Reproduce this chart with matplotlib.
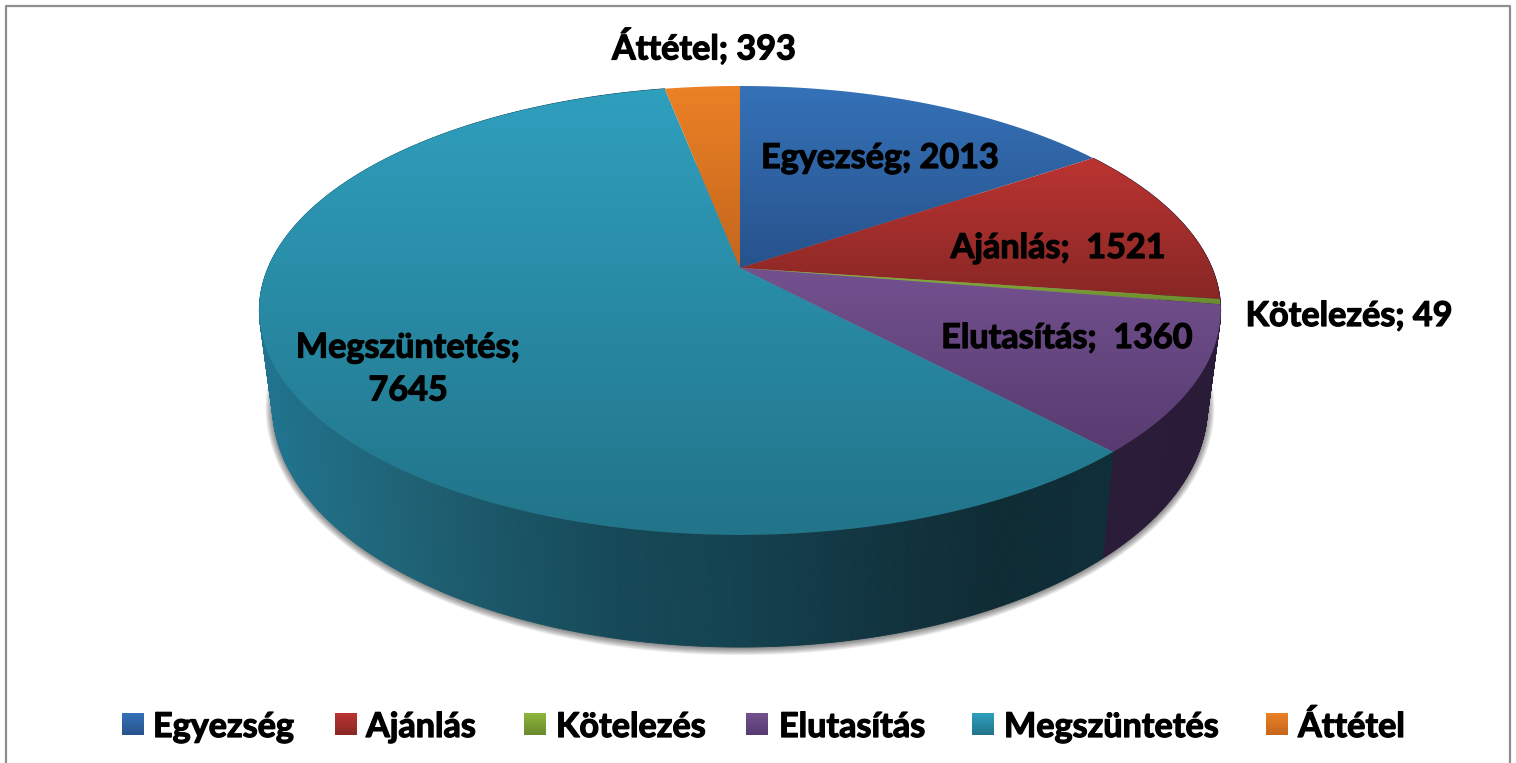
import numpy as np
import matplotlib
matplotlib.use('Agg')
import matplotlib.pyplot as plt
import matplotlib.patheffects as pe
from matplotlib.patches import Polygon
from matplotlib.colors import LinearSegmentedColormap

plt.rcParams['font.family'] = ['Lato', 'DejaVu Sans']

# data
categories = ['Egyezség', 'Ajánlás', 'Kötelezés', 'Elutasítás', 'Megszüntetés', 'Áttétel']
values = [2013, 1521, 49, 1360, 7645, 393]
top_light = ['#3572b8', '#ba3431', '#8fb63e', '#73518f', '#2f9fbe', '#ec8126']
top_dark = ['#27528c', '#882725', '#6a8a2c', '#573b70', '#217489', '#c4661c']
label_texts = ['Egyezség; 2013', 'Ajánlás;  1521', 'Kötelezés; 49', 'Elutasítás;  1360',
               'Megszüntetés;\n7645', 'Áttétel; 393']
label_x = [880, 1058, 1349, 1067, 408, 704]
label_y = [158, 248, 316, 338, 369, 47]
legend_box_x = [122, 335, 524, 746, 972, 1266]
legend_text_x = [153, 366, 556, 779, 1004, 1298]

# perspective of the pie: apex x/y, a, b for top and bottom face
K = 0.189
TOP = (740, 268, 472, 216.4)
BOT = (740, 361, 459, 232)


def project(theta, face):
    cx, cy, a, b = face
    X, Y = np.sin(theta), np.cos(theta)
    w = 1 + K * Y
    return cx + a * X / w, cy - b * Y / w


fig = plt.figure(figsize=(15.16, 7.63), dpi=100)
ax = fig.add_axes([0, 0, 1, 1])
ax.set_xlim(0, 1516)
ax.set_ylim(763, 0)
ax.axis('off')

# frame
ax.plot([6, 6, 1510, 1510], [763, 6, 6, 763], color='#8e8e8e', lw=1.6)


def gradient_fill(verts, light, dark, zorder):
    xs, ys = verts[:, 0], verts[:, 1]
    cmap = LinearSegmentedColormap.from_list('g', [light, dark])
    patch = Polygon(verts, closed=True, fc='none', ec='none', transform=ax.transData)
    ax.add_patch(patch)
    im = ax.imshow(np.linspace(0, 1, 256).reshape(-1, 1), cmap=cmap, aspect='auto',
                   extent=[xs.min(), xs.max(), ys.max(), ys.min()], zorder=zorder,
                   interpolation='bilinear')
    im.set_clip_path(patch)


# soft shadow under the pie
t = np.linspace(0, 2 * np.pi, 400)
sx, sy = project(t, BOT)
for d in np.linspace(7, 0, 8):
    ax.add_patch(Polygon(np.c_[740 + (sx - 740) * (1 + d / 470), 405 + (sy - 405) * (1 + d / 241) + 1],
                         closed=True, fc='#000000', ec='none', alpha=0.07, zorder=1))

# angles of the slice borders, clockwise from the top
fractions = np.array(values) / sum(values)
edges = np.concatenate([[0], np.cumsum(fractions)]) * 2 * np.pi

# wall of the pie, only the part that faces the viewer
side_x = [259, 400, 500, 620, 740, 900, 1000, 1102]
side_rgb = np.array([[33, 116, 143], [31, 99, 118], [26, 86, 103], [22, 73, 88],
                     [20, 66, 80], [17, 51, 62], [15, 44, 53], [15, 46, 56]]) / 255
for i in range(len(values)):
    if i in (0, 5):
        continue
    start, stop = edges[i], edges[i + 1]
    n = max(2, int((stop - start) * 200))
    th = np.linspace(start, stop, n + 1)
    x0, y0 = project(th, TOP)
    x1, y1 = project(th, BOT)
    for j in range(n):
        if categories[i] == 'Megszüntetés':
            col = [np.interp(x0[j], side_x, side_rgb[:, c]) for c in range(3)]
        else:
            col = '#2a1c38'
        ax.add_patch(Polygon([(x0[j], y0[j]), (x0[j + 1], y0[j + 1]), (x1[j + 1], y1[j + 1]), (x1[j], y1[j])],
                             closed=True, fc=col, ec=col, lw=0.6, zorder=2))

# top face of each slice
for i in range(len(values)):
    th = np.linspace(edges[i], edges[i + 1], max(3, int((edges[i + 1] - edges[i]) * 120)))
    x0, y0 = project(th, TOP)
    verts = np.r_[[(TOP[0], TOP[1])], np.c_[x0, y0]]
    gradient_fill(verts, top_light[i], top_dark[i], 3 + i * 0.01)

# heavier strokes, the labels in the picture are very bold
heavy = [pe.withStroke(linewidth=0.9, foreground='black')]

# data labels
for i in range(len(values)):
    ax.text(label_x[i], label_y[i], label_texts[i], ha='center', va='center', fontsize=24.6,
            fontweight='bold', color='black', zorder=5, linespacing=1.42, path_effects=heavy)

# legend
for i in range(len(values)):
    verts = np.array([(legend_box_x[i], 713), (legend_box_x[i] + 22, 713),
                      (legend_box_x[i] + 22, 735), (legend_box_x[i], 735)])
    gradient_fill(verts, top_light[i], top_dark[i], 4)
    ax.text(legend_text_x[i], 727, categories[i], ha='left', va='center', fontsize=24.6,
            fontweight='bold', color='black', zorder=5, path_effects=heavy)

ax.set_xlim(0, 1516)
ax.set_ylim(763, 0)
fig.savefig('out.png', dpi=100)
